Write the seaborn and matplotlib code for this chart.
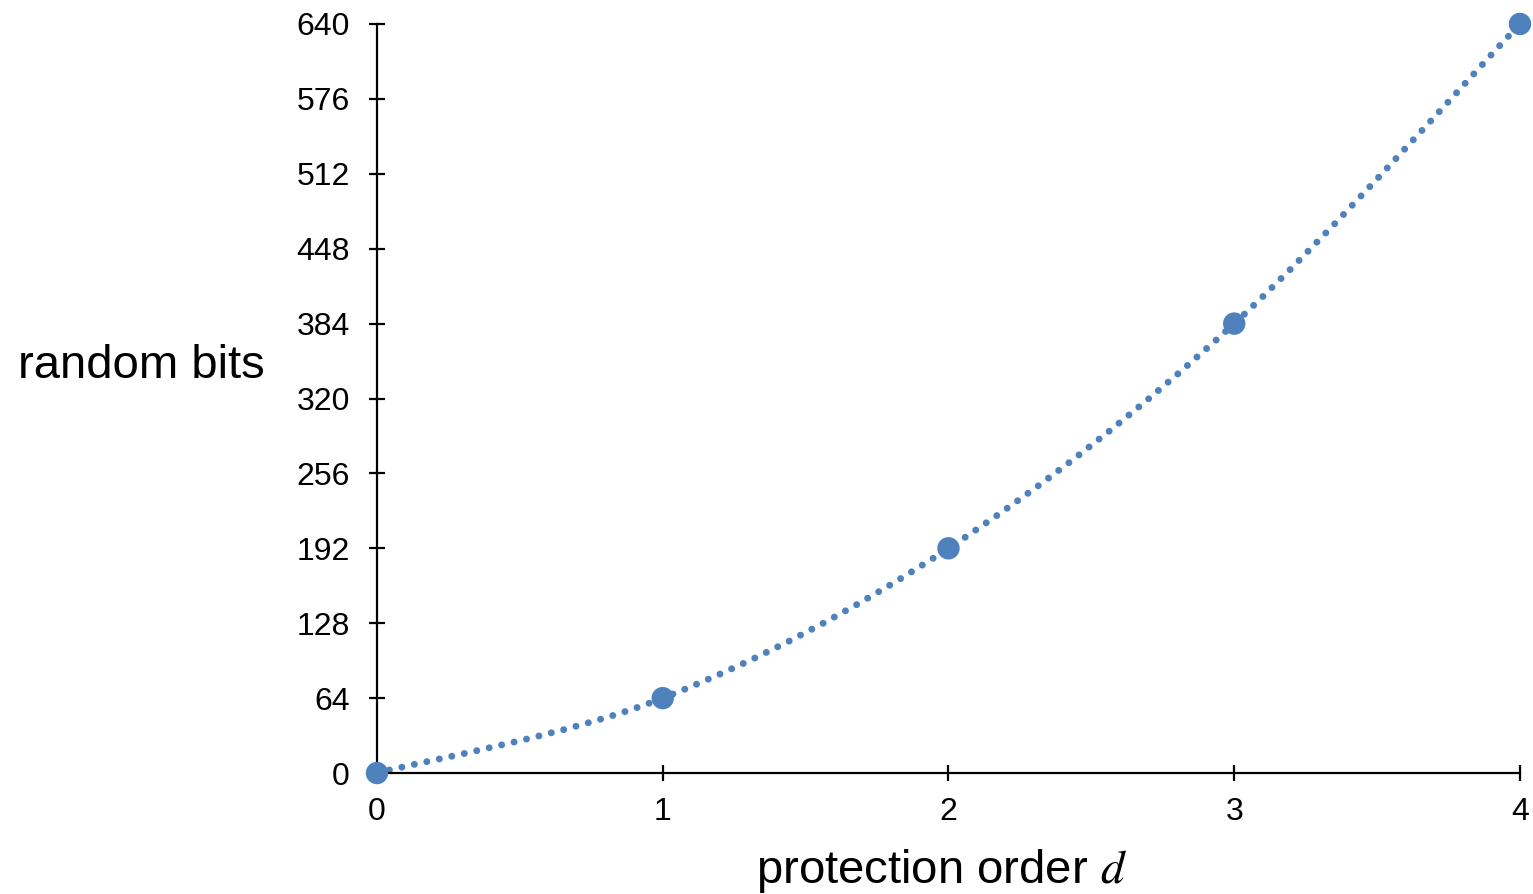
import numpy as np
import pandas as pd
import matplotlib
matplotlib.use('Agg')
import matplotlib.pyplot as plt
from matplotlib.path import Path
from matplotlib.patches import PathPatch
import seaborn as sns

# data
order = [0, 1, 2, 3, 4]
bits = [0, 64, 192, 384, 640]
ytick_vals = [0, 64, 128, 192, 256, 320, 384, 448, 512, 576, 640]

blue = '#4F81BD'

sns.set_style('white')
plt.rcParams['font.family'] = ['Liberation Sans', 'DejaVu Sans']
plt.rcParams['mathtext.fontset'] = 'stix'

df = pd.DataFrame({'order': order, 'bits': bits})

fig = plt.figure(figsize=(15.33, 8.94), dpi=100)
ax = fig.add_axes([0.2459, 0.1353, 0.7456, 0.8379])

# smoothed dotted line through the points (Catmull-Rom as bezier segments)
pts = df[['order', 'bits']].to_numpy(dtype=float)
ext = np.vstack([pts[0], pts, pts[-1]])
verts = [tuple(pts[0])]
codes = [Path.MOVETO]
for i in range(len(pts) - 1):
    p0, p1, p2, p3 = ext[i], ext[i + 1], ext[i + 2], ext[i + 3]
    c1 = p1 + (p2 - p0) / 6
    c2 = p2 - (p3 - p1) / 6
    verts += [tuple(c1), tuple(c2), tuple(p2)]
    codes += [Path.CURVE4] * 3
patch = PathPatch(Path(verts, codes), fill=False, edgecolor=blue, lw=5,
                  linestyle=(0, (0.01, 1.83)), capstyle='round', clip_on=False, zorder=2)
ax.add_patch(patch)

sns.scatterplot(data=df, x='order', y='bits', ax=ax, color=blue, s=260,
                edgecolor='none', clip_on=False, zorder=3)

ax.set_xlim(0, 4)
ax.set_ylim(0, 640)
ax.set_xticks(order)
ax.set_yticks(ytick_vals)
ax.tick_params(axis='both', direction='inout', length=11, width=1.6,
               labelsize=23, color='black', labelcolor='black')
ax.tick_params(axis='x', pad=12)
ax.tick_params(axis='y', pad=14)
ax.tick_params(bottom=True, left=True)

for side in ['top', 'right']:
    ax.spines[side].set_visible(False)
for side in ['left', 'bottom']:
    ax.spines[side].set_color('black')
    ax.spines[side].set_linewidth(1.6)

ax.set_xlabel('protection order $d$', fontsize=34, color='black', va='center')
ax.xaxis.set_label_coords(0.494, -0.131)
ax.set_ylabel('random bits', fontsize=34, color='black', rotation=0,
              ha='right', va='center')
ax.yaxis.set_label_coords(-0.098, 0.544)

fig.savefig('out.png', dpi=100)
